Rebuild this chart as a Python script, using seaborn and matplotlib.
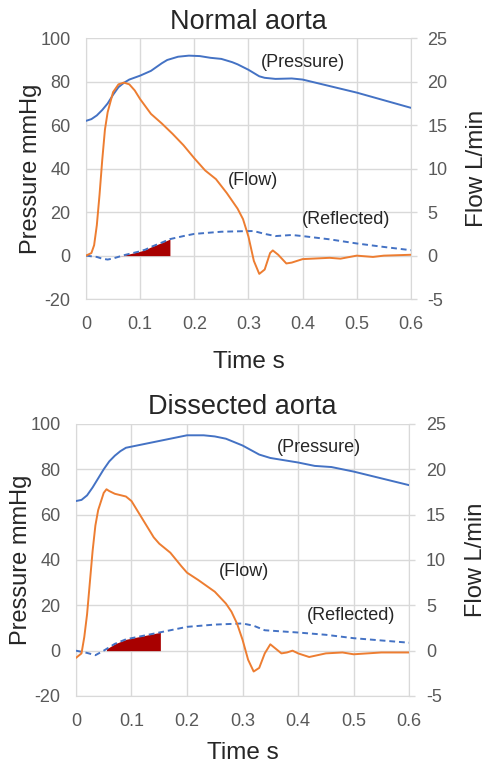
import numpy as np
import pandas as pd
import matplotlib
matplotlib.use("Agg")
import matplotlib.pyplot as plt
import seaborn as sns

# ---------------- Normal aorta ----------------
n_p_t = [0, 0.01, 0.02, 0.03, 0.04, 0.05, 0.06, 0.07, 0.08, 0.1, 0.12, 0.14, 0.15, 0.17, 0.19, 0.21, 0.23,
         0.25, 0.27, 0.28, 0.3, 0.32, 0.33, 0.35, 0.38, 0.4, 0.45, 0.5, 0.55, 0.6]
n_p_v = [62, 62.8, 64.5, 67, 70, 74, 77.5, 79.5, 81, 82.8, 85, 88.5, 90, 91.5, 92, 91.8, 91,
         90.5, 89, 88, 85.5, 82.5, 81.8, 81.3, 81.5, 81, 78, 75, 71.5, 68]
n_f_t = [0, 0.01, 0.015, 0.02, 0.025, 0.03, 0.035, 0.04, 0.05, 0.06, 0.07, 0.08, 0.09, 0.1, 0.12, 0.14,
         0.16, 0.18, 0.2, 0.22, 0.24, 0.26, 0.28, 0.29, 0.3, 0.31, 0.32, 0.33, 0.34, 0.345, 0.355,
         0.37, 0.38, 0.4, 0.45, 0.47, 0.5, 0.53, 0.55, 0.6]
n_f_v = [0, 0.3, 1.2, 3.5, 7, 11, 14.5, 16.5, 18.8, 19.7, 19.9, 19.7, 19.0, 18.0, 16.3, 15.2,
         14.0, 12.7, 11.2, 9.8, 8.8, 7.2, 5.4, 4.2, 2.2, -0.6, -2.1, -1.6, 0.3, 0.6, 0.1,
         -0.9, -0.8, -0.4, -0.25, -0.35, 0, -0.15, 0.0, 0.1]
n_r_t = [0, 0.02, 0.03, 0.04, 0.05, 0.07, 0.1, 0.11, 0.12, 0.14, 0.155, 0.18, 0.2, 0.25, 0.3, 0.31,
         0.33, 0.35, 0.38, 0.4, 0.45, 0.5, 0.55, 0.6]
n_r_v = [0, -0.6, -1.4, -1.8, -1.3, 0.2, 2.0, 2.8, 4.0, 6.0, 7.6, 9.0, 10.0, 11.0, 11.3, 11.3,
         10.0, 9.0, 9.5, 9.0, 7.5, 5.6, 4.0, 2.5]
n_fill = (0.065, 0.155)

# ---------------- Dissected aorta ----------------
d_p_t = [0, 0.01, 0.02, 0.03, 0.04, 0.05, 0.06, 0.07, 0.08, 0.09, 0.1, 0.12, 0.15, 0.17, 0.2, 0.23,
         0.25, 0.27, 0.3, 0.33, 0.35, 0.4, 0.43, 0.46, 0.5, 0.55, 0.6]
d_p_v = [66, 66.5, 68.5, 72, 76, 80, 83.5, 86, 88, 89.5, 90, 91, 92.5, 93.5, 95, 95,
         94.5, 93.5, 90.5, 86.5, 85, 83, 81.5, 81, 79, 76, 73]
d_f_t = [0, 0.01, 0.015, 0.02, 0.025, 0.03, 0.035, 0.04, 0.05, 0.055, 0.06, 0.07, 0.09, 0.1, 0.12,
         0.14, 0.15, 0.17, 0.19, 0.2, 0.22, 0.25, 0.27, 0.28, 0.29, 0.3, 0.31, 0.32, 0.33, 0.34,
         0.35, 0.36, 0.37, 0.38, 0.39, 0.4, 0.42, 0.45, 0.48, 0.5, 0.55, 0.6]
d_f_v = [-0.8, -0.3, 1.5, 4, 7.5, 11, 13.8, 15.5, 17.4, 17.8, 17.6, 17.3, 17.0, 16.5, 14.5,
         12.5, 11.8, 10.8, 9.3, 8.6, 7.8, 6.5, 5.2, 4.3, 3.0, 1.2, -1.0, -2.3, -1.9, -0.3,
         0.7, 0.2, -0.3, -0.2, 0.0, -0.3, -0.7, -0.3, -0.2, -0.4, -0.2, -0.2]
d_r_t = [0, 0.02, 0.035, 0.05, 0.07, 0.09, 0.1, 0.12, 0.15, 0.17, 0.2, 0.25, 0.3, 0.32, 0.34, 0.4,
         0.45, 0.5, 0.55, 0.6]
d_r_v = [0, -1, -2, 0, 3, 5, 5.5, 6.5, 8, 9, 10.5, 11.5, 12, 11, 9, 8,
         7, 5.5, 4.5, 3.5]
d_fill = (0.055, 0.152)

titles = ["Normal aorta", "Dissected aorta"]
x_ticks = [0, 0.1, 0.2, 0.3, 0.4, 0.5, 0.6]
x_tick_labels = ["0", "0.1", "0.2", "0.3", "0.4", "0.5", "0.6"]
p_ticks = [-20, 0, 20, 40, 60, 80, 100]
f_ticks = [-5, 0, 5, 10, 15, 20, 25]

sns.set_style("white")
plt.rcParams['font.family'] = ['Liberation Sans', 'DejaVu Sans']
plt.rcParams['axes.unicode_minus'] = False

BLUE = "#4472C4"
ORANGE = "#ED7D31"
RED = "#A80000"
GRID = "#D9D9D9"
TICK = "#595959"

fig = plt.figure(figsize=(4.9, 7.65), dpi=100)
rects = [[0.1755, 0.609, 0.663, 0.341], [0.155, 0.0902, 0.680, 0.3556]]
flow_pads = [13, 14]
flow_sizes = [17.5, 17]
time_pads = [13, 9]

datasets = [
    (n_p_t, n_p_v, n_f_t, n_f_v, n_r_t, n_r_v, n_fill,
     [(0.40, 89, "(Pressure)"), (0.309, 34.6, "(Flow)"), (0.481, 16.7, "(Reflected)")]),
    (d_p_t, d_p_v, d_f_t, d_f_v, d_r_t, d_r_v, d_fill,
     [(0.438, 89.4, "(Pressure)"), (0.302, 34.8, "(Flow)"), (0.496, 15.3, "(Reflected)")]),
]

for i, (pt, pv, ft, fv, rt, rv, fill, labels) in enumerate(datasets):
    ax = fig.add_axes(rects[i])
    ax2 = ax.twinx()
    dfp = pd.DataFrame({"t": pt, "v": pv})
    dfr = pd.DataFrame({"t": rt, "v": rv})
    dff = pd.DataFrame({"t": ft, "v": fv})

    ax.set_xlim(0, 0.6)
    ax.set_ylim(-20, 100)
    ax2.set_ylim(-5, 25)
    ax.set_xticks(x_ticks)
    ax.set_xticklabels(x_tick_labels)
    ax.set_yticks(p_ticks)
    ax2.set_yticks(f_ticks)
    ax.grid(True, color=GRID, linewidth=1.0)
    ax.set_axisbelow(True)
    for a in (ax, ax2):
        for s in a.spines.values():
            s.set_visible(False)
    for side in ("bottom", "left", "right"):
        ax.spines[side].set_visible(True)
        ax.spines[side].set_color(GRID)

    # red filled area under reflected wave
    mask = (dfr["t"] >= fill[0]) & (dfr["t"] <= fill[1])
    tt = np.concatenate([[fill[0]], dfr["t"][mask].values, [fill[1]]])
    vv = np.interp(tt, dfr["t"], dfr["v"])
    ax.fill_between(tt, 0, vv, color=RED, linewidth=0, zorder=2)

    sns.lineplot(data=dfr, x="t", y="v", ax=ax, color=BLUE, linewidth=1.4,
                 linestyle=(0, (3, 2)), zorder=3)
    sns.lineplot(data=dfp, x="t", y="v", ax=ax, color=BLUE, linewidth=1.4, zorder=3)
    sns.lineplot(data=dff, x="t", y="v", ax=ax2, color=ORANGE, linewidth=1.4, zorder=3)

    ax.tick_params(axis="y", labelsize=13, colors=TICK, length=0, pad=11)
    ax.tick_params(axis="x", labelsize=13, colors=TICK, length=0, pad=12)
    ax2.tick_params(axis="y", labelsize=13, colors=TICK, length=4, width=1.0, color=GRID, pad=8)

    ax.set_xlabel("Time s", fontsize=17.5, labelpad=time_pads[i])
    ax.set_ylabel("Pressure mmHg", fontsize=17, labelpad=-1)
    ax2.set_ylabel("Flow L/min", fontsize=flow_sizes[i], labelpad=flow_pads[i])
    ax.set_title(titles[i], fontsize=19.5, pad=7)

    for (x, y, s) in labels:
        ax.text(x, y, s, fontsize=13, ha="center", va="center", zorder=4)

fig.savefig("out.png", dpi=100)
